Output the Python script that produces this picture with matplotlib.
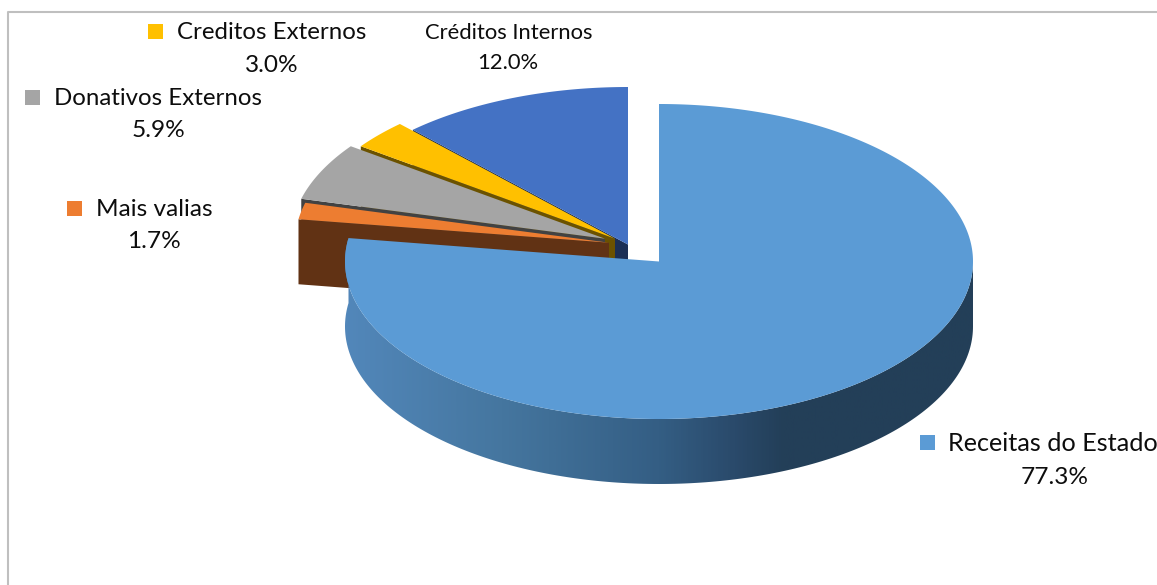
import numpy as np
import matplotlib
matplotlib.use('Agg')
import matplotlib.pyplot as plt
import matplotlib.patches as pch
from matplotlib.colors import LinearSegmentedColormap

# Shares in percent, clockwise from 12 o'clock
names = ['Receitas do Estado', 'Mais valias', 'Donativos Externos', 'Creditos Externos', 'Créditos Internos']
shares = [77.3, 1.7, 5.9, 3.0, 12.0]

TOP_COLORS = ['#5b9bd5', '#ed7d31', '#a5a5a5', '#ffc000', '#4472c4']
WALL_COLORS = ['#5b9bd5', '#613214', '#424242', '#6b5200', '#1b2f55']

# Draw variables (pixels)
W, H = 1157, 585
RX = 314
RY = 157.5
DEPTH = 65
CENTERS = [(659, 261.5), (609, 242.7), (605, 238.7), (615, 238.7), (628, 244.5)]
BORDER = '#bfbfbf'
FONT = 'Lato'

# name x, name y, value x, value y, marker x (None = no marker), name size, value size
LABELS = [
    (948, 443.5, 1055, 477.5, 920, 18.2, 17.6),
    (96, 209.5, 154, 241.5, 67, 17.6, 17.6),
    (54, 98.5, 158, 130.5, 25, 17.3, 17.6),
    (177, 32.5, 272, 65.5, 148, 17.3, 17.6),
    (425, 33, 508, 63, None, 15.8, 15.8),
]
MARKER = 15


def rim(center, a0, a1, drop=0.0, n=200):
    # points on the ellipse, angles clockwise from the top
    t = np.radians(np.linspace(a0, a1, n))
    return np.column_stack([center[0] + RX * np.sin(t), center[1] - RY * np.cos(t) + drop])


fig = plt.figure(figsize=(W / 100, H / 100), dpi=100)
ax = fig.add_axes([0, 0, 1, 1])
ax.set_axis_off()

# chart frame, only left and top show
ax.plot([8, 8, W], [H, 11.5, 11.5], color=BORDER, lw=1.5, zorder=1)

edges = np.concatenate([[0], np.cumsum(shares)]) / sum(shares) * 360

# small slices back to front, the big one comes last
for i in [4, 3, 2, 1]:
    c = CENTERS[i]
    a0, a1 = edges[i], edges[i + 1]
    out = rim(c, a0, a0, n=1)[0]
    wall = [c, out, (out[0], out[1] + DEPTH), (c[0], c[1] + DEPTH)]
    ax.add_patch(pch.Polygon(wall, facecolor=WALL_COLORS[i], edgecolor='none', zorder=2 + (4 - i)))
    top = np.vstack([[c], rim(c, a0, a1)])
    ax.add_patch(pch.Polygon(top, facecolor=TOP_COLORS[i], edgecolor='none', zorder=2 + (4 - i)))

# side of the big slice with the light running left to right
c = CENTERS[0]
side = np.vstack([rim(c, 90, edges[1]), rim(c, edges[1], 90, drop=DEPTH)])
side_patch = pch.Polygon(side, facecolor='none', edgecolor='none', zorder=10)
ax.add_patch(side_patch)
shade = LinearSegmentedColormap.from_list('side', [
    (0.0, '#5287ba'), (0.25, '#45769f'), (0.5, '#345e84'),
    (0.62, '#2a4a6b'), (0.7, '#233f58'), (1.0, '#233f58')])
im = ax.imshow(np.linspace(0, 1, 600).reshape(1, -1), cmap=shade, aspect='auto',
               extent=(c[0] - RX, c[0] + RX, c[1] + RY + DEPTH, c[1] - RY), zorder=10)
im.set_clip_path(side_patch)

top = np.vstack([[c], rim(c, edges[0], edges[1], n=600)])
ax.add_patch(pch.Polygon(top, facecolor=TOP_COLORS[0], edgecolor='none', zorder=11))

for i, (nx, ny, vx, vy, mx, name_size, value_size) in enumerate(LABELS):
    ax.text(nx, ny, names[i], fontsize=name_size, family=FONT, color='#0d0d0d', va='center', ha='left', zorder=20)
    ax.text(vx, vy, f'{shares[i]:.1f}%', fontsize=value_size, family=FONT, color='#0d0d0d', va='center', ha='center', zorder=20)
    if mx is not None:
        ax.add_patch(pch.Rectangle((mx, ny - 1.5 - MARKER / 2), MARKER, MARKER, facecolor=TOP_COLORS[i],
                                   edgecolor='none', zorder=20))

ax.set_xlim(0, W)
ax.set_ylim(H, 0)
fig.savefig('out.png', dpi=100)
